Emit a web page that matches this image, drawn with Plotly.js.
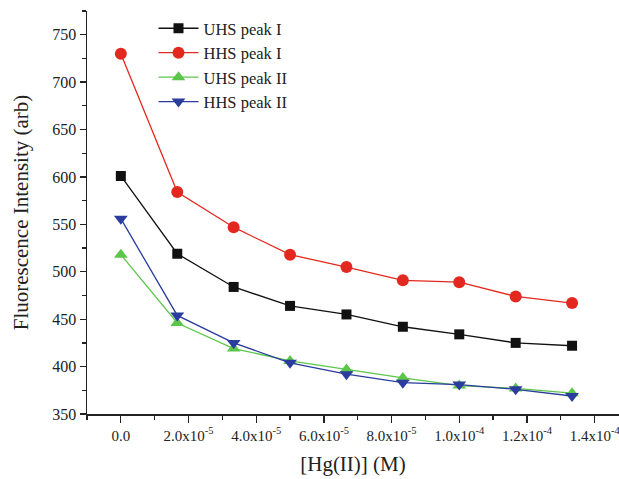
<!DOCTYPE html>
<html>
<head>
<meta charset="utf-8">
<script src="https://cdn.plot.ly/plotly-3.0.1.min.js"></script>
<style>html,body{margin:0;padding:0;background:#fff;}#chart{width:619px;height:479px;}</style>
</head>
<body>
<div id="chart"></div>
<script>
const hgConc = [0, 1.667e-5, 3.333e-5, 5.0e-5, 6.667e-5, 8.333e-5, 1.0e-4, 1.1667e-4, 1.3333e-4];
const uhsPeakI  = [601, 519, 484, 464, 455, 442, 434, 425, 422];
const hhsPeakI  = [730, 584, 547, 518, 505, 491, 489, 474, 467];
const uhsPeakII = [518, 446, 419, 406, 397, 388, 380, 377, 372];
const hhsPeakII = [556, 454, 425, 404, 392, 383, 381, 376, 369];
const seriesNames = ["UHS peak I", "HHS peak I", "UHS peak II", "HHS peak II"];
const xTickVals = [0, 2e-5, 4e-5, 6e-5, 8e-5, 1e-4, 1.2e-4, 1.4e-4];
const xTickText = ["0.0", "2.0x10<sup>-5</sup>", "4.0x10<sup>-5</sup>", "6.0x10<sup>-5</sup>", "8.0x10<sup>-5</sup>", "1.0x10<sup>-4</sup>", "1.2x10<sup>-4</sup>", "1.4x10<sup>-4</sup>"];

const colors = ["#111111", "#e3291f", "#5cc64a", "#2a3c9e"];
const symbols = ["square", "circle", "triangle-up", "triangle-down"];
const sizes = [10, 12, 12, 12];
const ys = [uhsPeakI, hhsPeakI, uhsPeakII, hhsPeakII];

const data = ys.map((y, i) => ({
  x: hgConc, y: y, name: seriesNames[i], type: "scatter", mode: "lines+markers",
  line: {color: colors[i], width: 1.3},
  marker: {color: colors[i], symbol: symbols[i], size: sizes[i], line: {width: 0}}
}));

const font = "Liberation Serif, Times New Roman, serif";
const layout = {
  width: 619, height: 479,
  margin: {l: 87, r: 0, t: 11, b: 65},
  paper_bgcolor: "#fff", plot_bgcolor: "#fff",
  font: {family: font, color: "#222", size: 16},
  showlegend: true,
  legend: {x: 0.125, y: 1.0, xanchor: "left", yanchor: "top", font: {family: font, size: 16.5, color: "#222"},
           bgcolor: "rgba(0,0,0,0)", itemwidth: 40, tracegroupgap: 0},
  xaxis: {
    range: [-1e-5, 1.472e-4], showgrid: false, zeroline: false,
    showline: true, linecolor: "#222", linewidth: 1.5,
    tickmode: "array", tickvals: xTickVals, ticktext: xTickText,
    ticks: "outside", ticklen: 7, tickwidth: 1.3, tickcolor: "#222",
    ticklabeloverflow: "allow",
    tickfont: {family: font, size: 15, color: "#222"},
    minor: {tickmode: "linear", tick0: -1e-5, dtick: 2e-5, ticks: "outside", ticklen: 4, tickwidth: 1.3, tickcolor: "#222", showgrid: false},
    title: {text: "[Hg(II)] (M)", font: {family: font, size: 21, color: "#222"}, standoff: 14}
  },
  yaxis: {
    range: [350, 775], showgrid: false, zeroline: false,
    showline: true, linecolor: "#222", linewidth: 1.5,
    tickmode: "linear", tick0: 350, dtick: 50,
    ticks: "outside", ticklen: 6, tickwidth: 1.3, tickcolor: "#222",
    tickfont: {family: font, size: 16, color: "#222"},
    minor: {tickmode: "linear", tick0: 375, dtick: 50, ticks: "outside", ticklen: 3.5, tickwidth: 1.3, tickcolor: "#222", showgrid: false},
    title: {text: "Fluorescence Intensity (arb)", font: {family: font, size: 21, color: "#222"}, standoff: 18}
  }
};

Plotly.newPlot("chart", data, layout, {displayModeBar: false, staticPlot: true});
</script>
</body>
</html>
